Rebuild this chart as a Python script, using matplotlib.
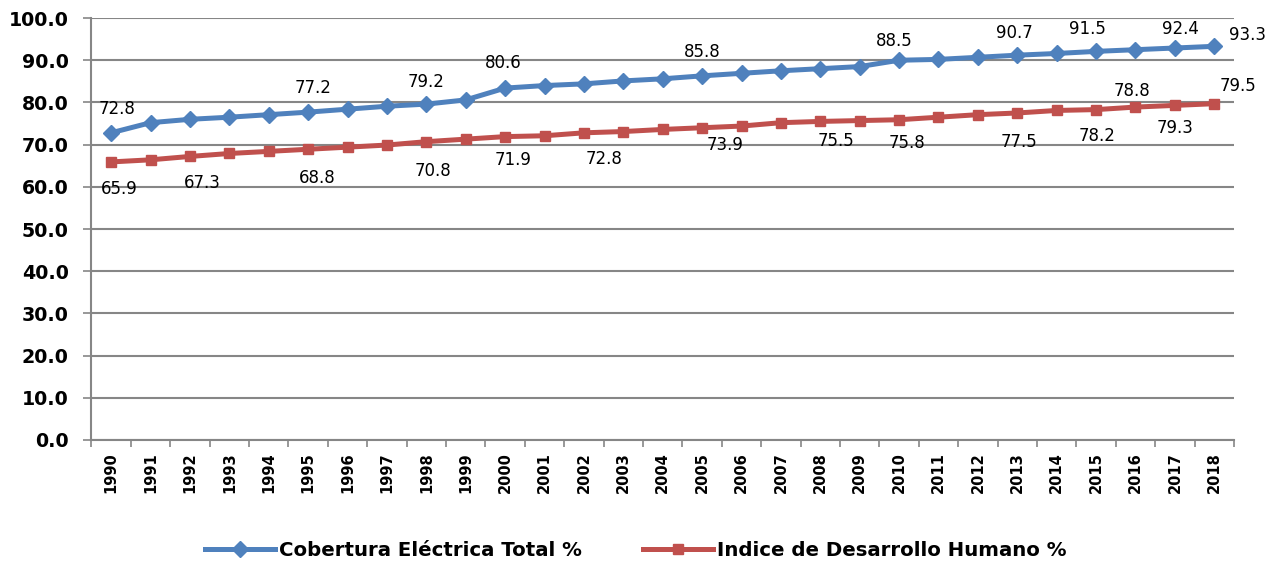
import matplotlib.pyplot as plt
from matplotlib.lines import Line2D

# datos
years = [str(y) for y in range(1990, 2019)]
cobertura = [72.8, 75.2, 76.0, 76.5, 77.1, 77.7, 78.4, 79.1, 79.6, 80.6,
             83.4, 84.0, 84.4, 85.1, 85.6, 86.3, 86.9, 87.5, 88.0, 88.5,
             90.0, 90.2, 90.7, 91.2, 91.6, 92.1, 92.5, 92.9, 93.3]
idh = [65.9, 66.4, 67.2, 67.9, 68.4, 68.9, 69.4, 69.9, 70.7, 71.3,
       71.9, 72.1, 72.8, 73.1, 73.6, 74.0, 74.4, 75.2, 75.5, 75.7,
       75.9, 76.5, 77.1, 77.5, 78.1, 78.3, 78.9, 79.3, 79.7]

# etiquetas de datos (indice del año, texto)
cob_lbl_idx = [0, 5, 8, 10, 15, 20, 23, 25, 27, 28]
cob_lbl_txt = ["72.8", "77.2", "79.2", "80.6", "85.8", "88.5", "90.7", "91.5", "92.4", "93.3"]
idh_lbl_idx = [0, 2, 5, 8, 10, 12, 15, 18, 20, 23, 25, 26, 27, 28]
idh_lbl_txt = ["65.9", "67.3", "68.8", "70.8", "71.9", "72.8", "73.9", "75.5",
               "75.8", "77.5", "78.2", "78.8", "79.3", "79.5"]

# desplazamientos de las etiquetas (x en años, y en unidades)
cob_off = [(0.15, 5.6), (0.12, 5.7), (0.0, 5.3), (-0.05, 5.9), (0.0, 5.6), (-0.13, 4.5),
           (-0.08, 5.3), (-0.22, 5.2), (0.15, 4.4), (0.85, 2.8)]
idh_off = [(0.2, -6.5), (0.32, -6.2), (0.24, -6.7), (0.16, -7.0), (0.2, -5.6),
           (0.52, -6.2), (0.57, -4.1), (0.41, -4.6), (0.19, -5.4), (0.04, -6.8),
           (0.03, -6.2), (-0.08, 3.7), (0.0, -5.4), (0.59, 4.1)]

azul = "#4F81BD"
rojo = "#C0504D"
gris = "#868686"

fig = plt.figure(figsize=(12.79, 5.64), dpi=100)
ax = fig.add_axes([0.0715, 0.2199, 0.8933, 0.7481])

x = list(range(len(years)))
ax.plot(x, cobertura, color=azul, lw=3.6, marker="D", ms=8.5, zorder=3)
ax.plot(x, idh, color=rojo, lw=3.6, marker="s", ms=7.5, zorder=3)

for i, t, (dx, dy) in zip(cob_lbl_idx, cob_lbl_txt, cob_off):
    ax.text(i + dx, cobertura[i] + dy, t, ha="center", va="center",
            fontsize=12, color="black")
for i, t, (dx, dy) in zip(idh_lbl_idx, idh_lbl_txt, idh_off):
    ax.text(i + dx, idh[i] + dy, t, ha="center", va="center",
            fontsize=12, color="black")

ax.set_ylim(0, 100)
ax.set_xlim(-0.5, len(years) - 0.5)
ax.set_yticks(range(0, 101, 10))
ax.set_yticklabels([f"{v:.1f}" for v in range(0, 101, 10)], fontsize=13.7, fontweight="bold")
ax.set_xticks(x)
ax.set_xticklabels(years, rotation=90, fontsize=10.5, fontweight="bold")
ax.set_xticks([v - 0.5 for v in range(len(years) + 1)], minor=True)
ax.tick_params(axis="x", which="major", length=0, pad=9)
ax.tick_params(axis="x", which="minor", length=5, color=gris, width=1.2)
ax.tick_params(axis="y", length=5.5, color=gris, width=1.2, pad=11)

ax.grid(axis="y", color=gris, lw=1.5)
ax.set_axisbelow(True)
for s in ["top", "right"]:
    ax.spines[s].set_visible(False)
for s in ["left", "bottom"]:
    ax.spines[s].set_color(gris)
    ax.spines[s].set_linewidth(1.5)

handles = [Line2D([], [], color=azul, lw=3.6, marker="D", ms=8.5),
           Line2D([], [], color=rojo, lw=3.6, marker="s", ms=7.5)]
fig.legend(handles, ["Cobertura Eléctrica Total %", "Indice de Desarrollo Humano %"],
           loc="center", bbox_to_anchor=(0.497, 0.024), ncol=2, frameon=False,
           handlelength=3.56, handletextpad=0.2, columnspacing=3.1,
           prop={"size": 14.2, "weight": "bold"})

fig.savefig("out.png", dpi=100)
